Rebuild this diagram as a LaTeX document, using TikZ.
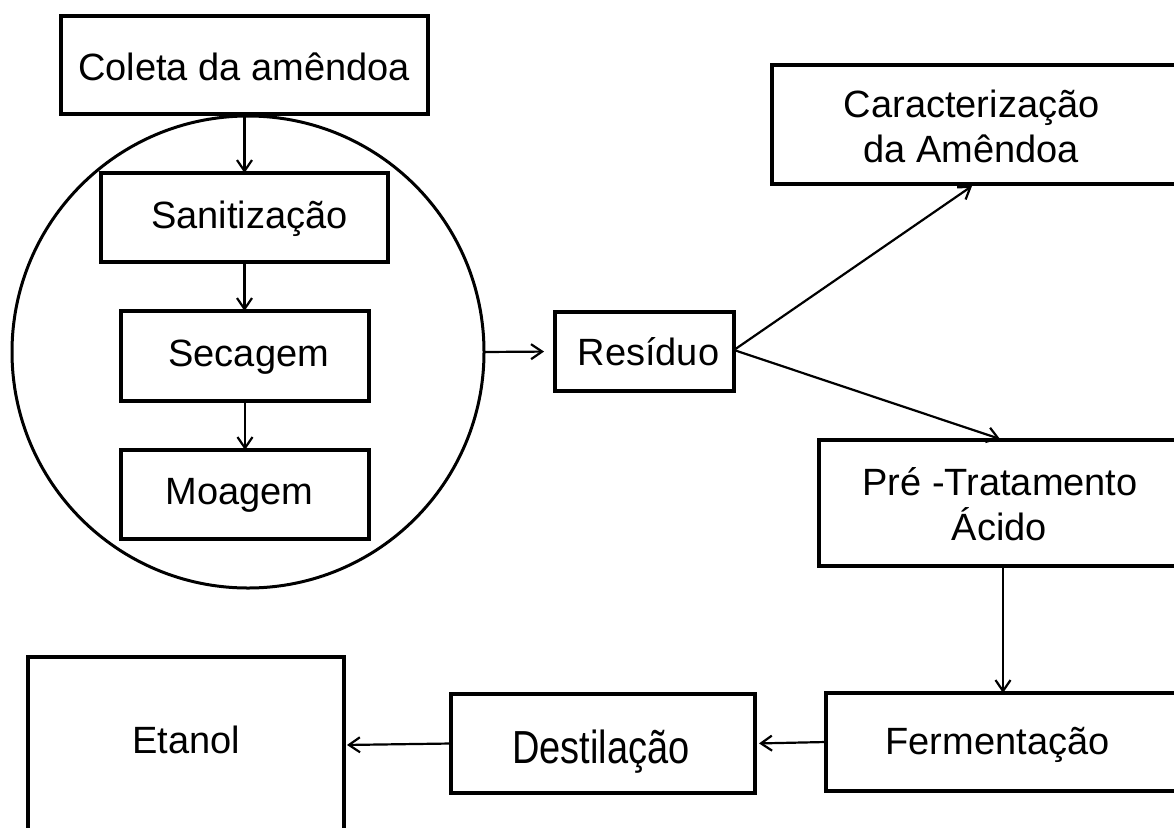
\documentclass[tikz,border=0pt]{standalone}
\usepackage{fontspec}
\setmainfont{Liberation Sans}
\usetikzlibrary{arrows.meta}
\tikzset{
  boxnode/.style={draw, line width=3.2pt, inner sep=0pt, outer sep=0pt, rectangle},
  txt/.style={anchor=base, inner sep=0pt, font=\fontsize{38}{45}\selectfont},
  conn/.style={line width=2.2pt, -{Straight Barb[length=11pt,width=15pt,line width=2.2pt]}}
}
\begin{document}
\begin{tikzpicture}[x=1pt,y=-1pt]
\useasboundingbox (0,0) rectangle (1174,827);
\clip (0,0) rectangle (1174,827);
\fill[white] (0,0) rectangle (1174,827);
% boxes
\node[boxnode, minimum width=367pt, minimum height=98pt] (coleta) at (244.5,65) {};
\node[draw, circle, line width=3pt, minimum size=472pt, inner sep=0pt, outer sep=0pt] (circ) at (248,352) {};
\node[boxnode, minimum width=287pt, minimum height=89pt] (sanit) at (244.5,217.5) {};
\node[boxnode, minimum width=248pt, minimum height=90pt] (secag) at (245,356) {};
\node[boxnode, minimum width=248pt, minimum height=89pt] (moag) at (245,494.5) {};
\node[boxnode, minimum width=179pt, minimum height=79pt] (resid) at (644.5,351.5) {};
\node[boxnode, minimum width=418pt, minimum height=119pt] (carac) at (981,124.5) {};
\node[boxnode, minimum width=371pt, minimum height=126pt] (pre) at (1004.5,503) {};
\node[boxnode, minimum width=364pt, minimum height=98pt] (ferm) at (1008,742) {};
\node[boxnode, minimum width=304pt, minimum height=99pt] (dest) at (603,743.5) {};
\node[boxnode, minimum width=316pt, minimum height=193pt] (etanol) at (186,753.5) {};
% texts
\node[txt] (tcoleta) at (244,80) {Coleta da amêndoa};
\node[txt] (tsanit) at (249.5,228) {Sanitização};
\node[txt] (tsecag) at (248.7,366) {Secagem};
\node[txt] (tmoag) at (239.5,504) {Moagem};
\node[txt] (tresid) at (648.5,365) {Resíduo};
\node[txt] (tcarac1) at (971.7,117) {Caracterização};
\node[txt] (tcarac2) at (971,162) {da Amêndoa};
\node[txt] (tpre1) at (1000,495) {Pré -Tratamento};
\node[txt] (tpre2) at (999.5,540) {Ácido};
\node[txt] (tferm) at (997.5,754) {Fermentação};
\node[txt] (tdest) at (601,763) {\scalebox{1}[1.22]{Destilação}};
\node[txt] (tetanol) at (186,753) {Etanol};
% connectors
\draw[conn] (coleta.south) -- (sanit.north);
\draw[conn] (sanit.south) -- (sanit.south |- secag.north);
\draw[conn] (secag.south) -- (moag.north);
\draw[conn, shorten >=11pt] (circ.east) -- (resid.west);
\draw[conn] ([yshift=1.5pt]resid.east) -- ([xshift=-9pt,yshift=-2pt]carac.south);
\draw[conn] ([yshift=1.5pt]resid.east) -- ([xshift=-4.5pt,yshift=1pt]pre.north);
\draw[conn] ([xshift=-1.5pt]pre.south) -- ([xshift=-1.5pt]pre.south |- ferm.north);
\draw[conn, shorten >=4pt] (ferm.west) -- (dest.east);
\draw[conn, shorten >=3pt] (dest.west) -- ([yshift=8.5pt]etanol.east);
\end{tikzpicture}
\end{document}
